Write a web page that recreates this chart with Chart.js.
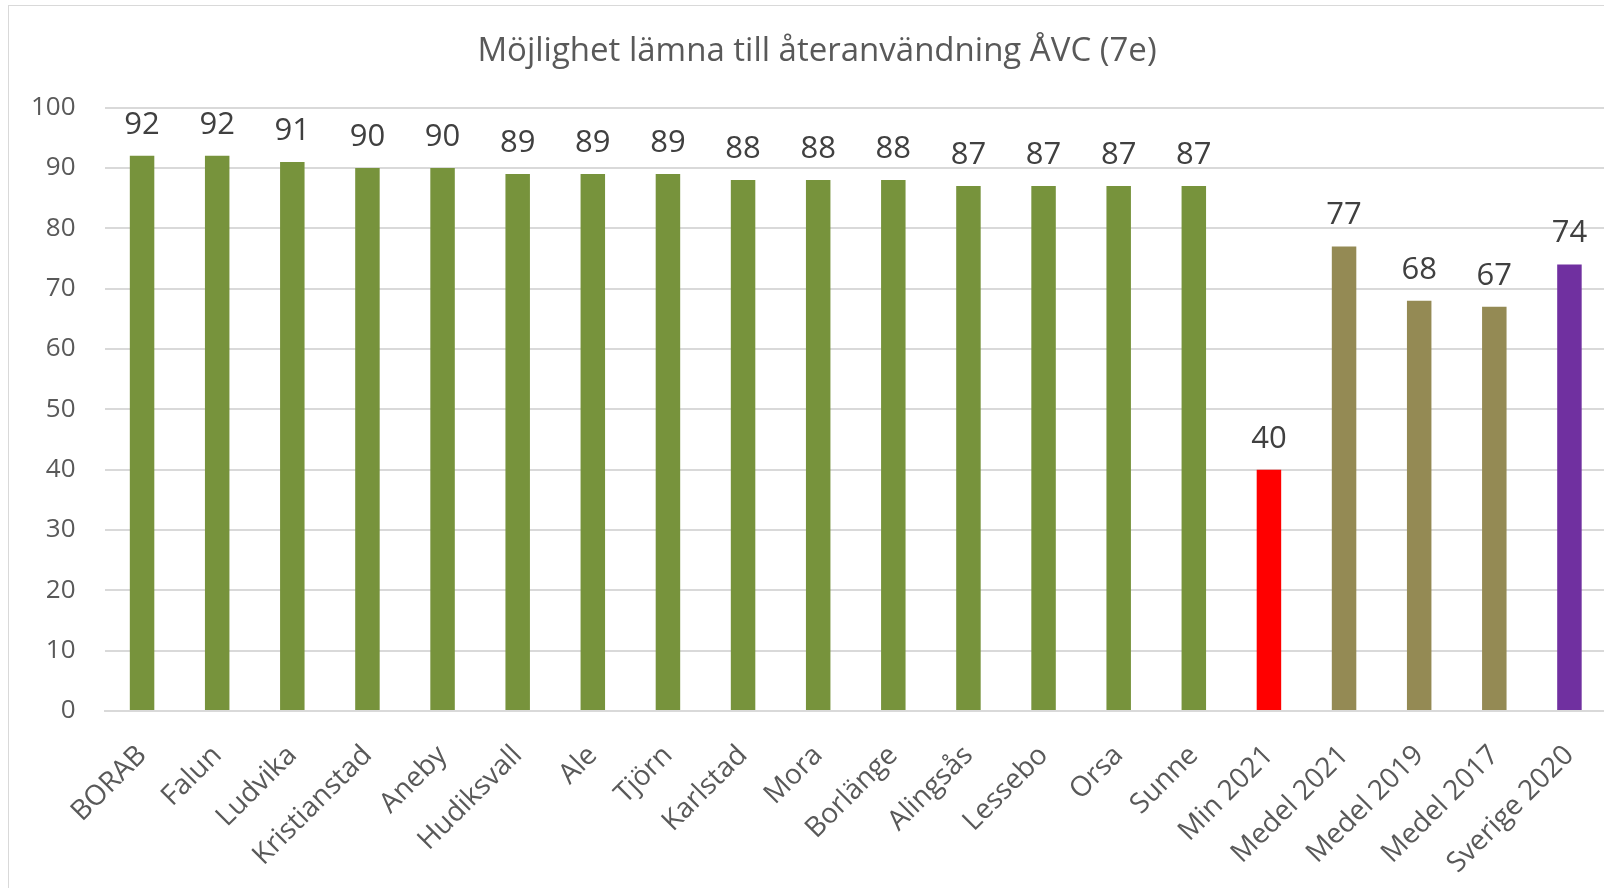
<!DOCTYPE html>
<html>
<head>
<meta charset="utf-8">
<script src="https://cdn.jsdelivr.net/npm/chart.js@4.4.1/dist/chart.umd.min.js"></script>
<style>
html,body{margin:0;padding:0;background:#fff;overflow:hidden;width:1604px;height:888px;}
#box{position:absolute;left:8px;top:5px;width:1658px;height:900px;border:1px solid #d9d9d9;background:#fff;}
#c{display:block;}
</style>
</head>
<body>
<div id="box"><canvas id="c" width="1658" height="900"></canvas></div>
<script>
const categories = ["BORAB","Falun","Ludvika","Kristianstad","Aneby","Hudiksvall","Ale","Tjörn","Karlstad","Mora","Borlänge","Alingsås","Lessebo","Orsa","Sunne","Min 2021","Medel 2021","Medel 2019","Medel 2017","Sverige 2020"];
const values = [92,92,91,90,90,89,89,89,88,88,88,87,87,87,87,40,77,68,67,74];
const barColors = ["#77933c","#77933c","#77933c","#77933c","#77933c","#77933c","#77933c","#77933c","#77933c","#77933c","#77933c","#77933c","#77933c","#77933c","#77933c","#ff0000","#948a54","#948a54","#948a54","#7030a0"];
const yTicks = [0,10,20,30,40,50,60,70,80,90,100];
const titleText = "Möjlighet lämna till återanvändning ÅVC (7e)";

const FONT = "'Open Sans', sans-serif";

const valueLabels = {
  id: 'valueLabels',
  afterDatasetsDraw(chart) {
    const ctx = chart.ctx;
    ctx.save();
    ctx.font = "31px " + FONT;
    ctx.fillStyle = "#404040";
    ctx.textAlign = "center";
    ctx.textBaseline = "alphabetic";
    chart.data.datasets.forEach((ds, i) => {
      const meta = chart.getDatasetMeta(i);
      meta.data.forEach((el, j) => {
        ctx.fillText(String(ds.data[j]), el.x, el.y - 22);
      });
    });
    ctx.restore();
  }
};

new Chart(document.getElementById('c'), {
  type: 'bar',
  data: {
    labels: categories,
    datasets: [{
      data: values,
      backgroundColor: barColors,
      borderWidth: 0,
      categoryPercentage: 1,
      barPercentage: 0.326
    }]
  },
  options: {
    responsive: false,
    animation: false,
    devicePixelRatio: 1,
    layout: { padding: { left: 18, right: 60, top: 0, bottom: -2 } },
    plugins: {
      legend: { display: false },
      tooltip: { enabled: false },
      title: {
        display: true,
        text: titleText,
        color: "#595959",
        font: { family: FONT, size: 33, weight: 'normal', lineHeight: 1.2 },
        padding: { top: 26, bottom: 36 }
      }
    },
    scales: {
      x: {
        grid: { display: false, drawTicks: false },
        border: { display: true, color: "#d9d9d9", width: 2 },
        afterFit(scale) { scale.paddingLeft = 0; },
        ticks: {
          color: "#595959",
          font: { family: FONT, size: 28 },
          maxRotation: 45, minRotation: 45,
          padding: 28,
          autoSkip: false
        }
      },
      y: {
        min: 0, max: 100,
        afterBuildTicks(axis) { axis.ticks = yTicks.map(v => ({ value: v })); },
        afterFit(scale) { scale.width = 77.5; },
        grid: { color: "#d9d9d9", lineWidth: 2, drawTicks: false },
        border: { display: false },
        ticks: {
          color: "#595959",
          font: { family: FONT, size: 26 },
          padding: 29
        }
      }
    }
  },
  plugins: [valueLabels]
});
</script>
</body>
</html>
